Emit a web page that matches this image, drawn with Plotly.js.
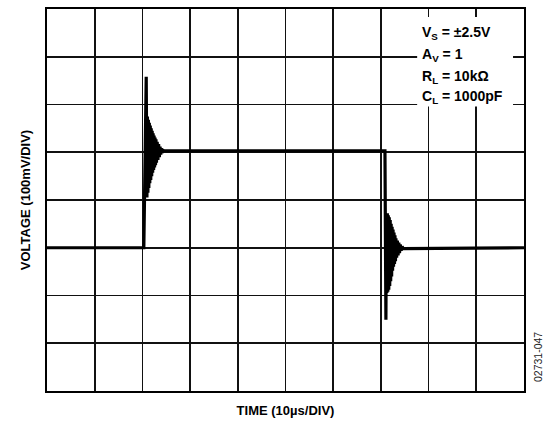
<!DOCTYPE html>
<html>
<head>
<meta charset="utf-8">
<script src="https://cdn.plot.ly/plotly-3.0.1.min.js"></script>
<style>html,body{margin:0;padding:0;background:#fff;}#chart{width:548px;height:421px;}</style>
</head>
<body>
<div id="chart"></div>
<script>
// Time in µs (10 µs/div), voltage in mV (100 mV/div)
const timeUs = [0, 20.3, 20.8, 20.95, 21.05, 21.15, 21.25, 21.35, 21.45, 21.55, 21.65, 21.75, 21.85, 21.95, 22.05, 22.15, 22.25, 22.35, 22.45, 22.55, 22.65, 22.75, 22.85, 22.95, 23.1, 23.25, 23.4, 23.55, 23.7, 23.85, 24.0, 24.2, 24.4, 24.6,
  70.85, 71.05, 71.15, 71.25, 71.35, 71.45, 71.55, 71.65, 71.75, 71.85, 71.95, 72.05, 72.15, 72.25, 72.35, 72.45, 72.55, 72.65, 72.75, 72.85, 72.95, 73.05, 73.15, 73.3, 73.45, 73.6, 73.75, 73.9, 74.05, 74.25, 74.45, 74.65, 100];
const voltageMv = [-100, -100, 258, 5, 175, 15, 168, 25, 162, 35, 156, 42, 150, 50, 145, 57, 140, 63, 135, 68, 131, 73, 127, 78, 122, 84, 117, 90, 112, 95, 108, 99, 104, 103,
  103, -251, -30, -195, -28, -192, -32, -188, -36, -180, -42, -170, -50, -160, -56, -148, -62, -140, -68, -134, -74, -128, -80, -121, -85, -116, -89, -111, -93, -106, -97, -102, -100];
const conditionLines = ["V<sub>S</sub> = ±2.5V", "A<sub>V</sub> = 1", "R<sub>L</sub> = 10kΩ", "C<sub>L</sub> = 1000pF"];
const xTitle = "TIME (10µs/DIV)";
const yTitle = "VOLTAGE (100mV/DIV)";
const figureId = "02731-047";

const font = "Liberation Sans, Arial, sans-serif";
const lineY = [350, 303, 258, 216];
const annotations = conditionLines.map((t, i) => ({
  text: "<b>" + t + "</b>", x: 78.2, y: lineY[i], xref: "x", yref: "y",
  xanchor: "left", yanchor: "middle", showarrow: false, align: "left",
  font: {family: font, size: 14, color: "#000"}
}));
annotations.push({
  text: figureId, textangle: -90,
  x: 1.0 + (538 - 524) / 477, y: (391 - 357) / 382,
  xref: "paper", yref: "paper", xanchor: "center", yanchor: "middle",
  showarrow: false, font: {family: font, size: 10.5, color: "#222"}
});

const trace = {
  x: timeUs, y: voltageMv, type: "scatter", mode: "lines",
  line: {color: "#000", width: 3.2}, hoverinfo: "skip"
};

const layout = {
  width: 548, height: 421,
  margin: {l: 47, r: 24, t: 9, b: 30},
  paper_bgcolor: "#fff", plot_bgcolor: "#fff",
  showlegend: false,
  xaxis: {
    range: [0, 100], dtick: 10, tick0: 0, showticklabels: false, ticks: "",
    showgrid: true, gridcolor: "#111", gridwidth: 1.7, zeroline: false,
    showline: true, mirror: true, linecolor: "#000", linewidth: 2,
    title: {text: "<b>" + xTitle + "</b>", font: {family: font, size: 13, color: "#000"}, standoff: 14}
  },
  yaxis: {
    range: [-400, 400], dtick: 100, tick0: 0, showticklabels: false, ticks: "",
    showgrid: true, gridcolor: "#111", gridwidth: 1.7, zeroline: false,
    showline: true, mirror: true, linecolor: "#000", linewidth: 2,
    title: {text: "<b>" + yTitle + "</b>", font: {family: font, size: 13, color: "#000"}, standoff: 11}
  },
  shapes: [{
    type: "rect", xref: "x", yref: "y", x0: 77.6, x1: 97.7, y0: 196, y1: 383,
    fillcolor: "#fff", line: {width: 0}, layer: "above"
  }],
  annotations: annotations
};

Plotly.newPlot("chart", [trace], layout, {displayModeBar: false, staticPlot: true});
</script>
</body>
</html>
